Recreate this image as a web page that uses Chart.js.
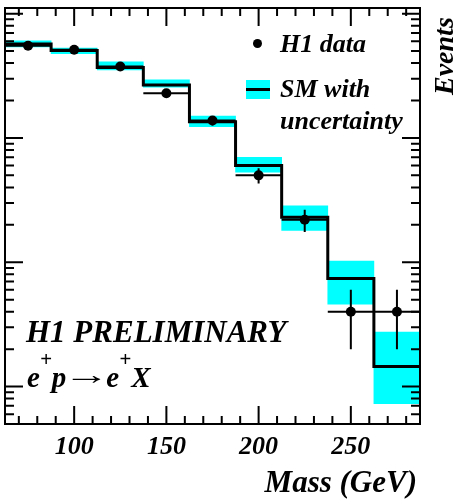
<!DOCTYPE html>
<html>
<head>
<meta charset="utf-8">
<script src="https://cdn.jsdelivr.net/npm/chart.js@4"></script>
<style>
  html, body { margin: 0; padding: 0; background: #fff; }
  #wrap { position: relative; width: 460px; height: 500px; overflow: hidden; }
  #chart { position: absolute; left: 0; top: 0; }
  .lbl {
    position: absolute;
    font-family: 'Liberation Serif', 'Times New Roman', serif;
    font-weight: bold; font-style: italic;
    line-height: 1; white-space: nowrap; color: #000;
  }
  .sup { font-size: 21px; position: relative; top: -21px; }
  .arrow { display: inline-block; font-style: normal; transform: translateY(-3px) scaleX(1.6); margin: 0 5px 0 6px; }
  .dot { position: absolute; width: 9px; height: 9px; border-radius: 50%; background: #000; }
  .box { position: absolute; background: #00ffff; }
  .box i { position: absolute; left: 0; right: 0; top: 8px; height: 3px; background: #000; }
</style>
</head>
<body>
<div id="wrap">
  <canvas id="chart" width="460" height="500"></canvas>

  <span class="dot" style="left:253px; top:39px"></span>
  <div class="lbl" style="left:280px; top:30.5px; font-size:26px">H1 data</div>
  <span class="box" style="left:246px; top:80px; width:24px; height:19px"><i></i></span>
  <div class="lbl" style="left:280px; top:75.5px; font-size:26px">SM with</div>
  <div class="lbl" style="left:280px; top:108px; font-size:26px">uncertainty</div>

  <div class="lbl" style="left:26px; top:315.5px; font-size:31px">H1 PRELIMINARY</div>
  <div class="lbl" style="left:27px; top:362.7px; font-size:29px">e<span class="sup">+</span>p<span class="arrow">→</span>e<span class="sup">+</span>X</div>

  <div class="lbl" style="right:43px; top:465.7px; font-size:31px">Mass (GeV)</div>
  <div class="lbl" style="left:430px; top:95px; font-size:28px; transform:rotate(-90deg); transform-origin:0 0">Events</div>
</div>

<script>
// bins of 25 GeV
const binEdges = [62.5, 87.5, 112.5, 137.5, 162.5, 187.5, 212.5, 237.5, 262.5, 287.5];
const binCenters = [75, 100, 125, 150, 175, 200, 225, 250, 275];

// H1 data
const dataEvents = [552, 513, 376, 229, 138, 50, 22, 4, 4];
const dataErrors = [23, 23, 19, 15, 12, 7, 4.5, 2, 2];

// Standard Model expectation and its band
const smEvents = [570, 505, 369, 267, 135, 60, 23, 7.4, 1.45];
const smLow    = [539, 476, 353, 256, 123, 53, 18, 4.6, 0.73];
const smHigh   = [605, 529, 410, 294, 150, 70, 28.5, 10.2, 2.74];

const xTickLabels = [100, 150, 200, 250];

// frame, inward ticks on all sides and the data error bars
const frameAndTicks = {
  id: 'frameAndTicks',
  afterDatasetsDraw(chart) {
    const { ctx, chartArea: a, scales: { x, y } } = chart;
    ctx.save();
    ctx.strokeStyle = '#000';
    ctx.lineWidth = 2;

    ctx.beginPath();
    binCenters.forEach((c, i) => {
      const px = x.getPixelForValue(c);
      const py = y.getPixelForValue(dataEvents[i]);
      ctx.moveTo(x.getPixelForValue(binEdges[i]), py);
      ctx.lineTo(x.getPixelForValue(binEdges[i + 1]), py);
      ctx.moveTo(px, y.getPixelForValue(dataEvents[i] + dataErrors[i]));
      ctx.lineTo(px, y.getPixelForValue(dataEvents[i] - dataErrors[i]));
    });
    ctx.stroke();

    ctx.beginPath();
    for (let v = 70; v <= 280; v += 10) {
      const px = x.getPixelForValue(v);
      const len = v % 50 === 0 ? 18 : 8;
      ctx.moveTo(px, a.bottom); ctx.lineTo(px, a.bottom - len);
      ctx.moveTo(px, a.top); ctx.lineTo(px, a.top + len);
    }
    for (let d = 0.1; d < 2000; d *= 10) {
      for (let m = 1; m <= 9; m++) {
        const v = m * d;
        if (v <= y.min * 1.001 || v >= y.max) continue;
        const py = y.getPixelForValue(v);
        const len = m === 1 ? 18 : 9;
        ctx.moveTo(a.left, py); ctx.lineTo(a.left + len, py);
        ctx.moveTo(a.right, py); ctx.lineTo(a.right - len, py);
      }
    }
    ctx.stroke();

    ctx.strokeRect(a.left, a.top, a.right - a.left, a.bottom - a.top);
    ctx.restore();
  }
};

new Chart(document.getElementById('chart'), {
  type: 'bar',
  data: {
    datasets: [
      {
        type: 'scatter',
        label: 'H1 data',
        data: binCenters.map((c, i) => ({ x: c, y: dataEvents[i] })),
        pointRadius: 5,
        pointBackgroundColor: '#000',
        pointBorderWidth: 0,
        order: 0,
      },
      {
        type: 'line',
        label: 'SM',
        data: binEdges.map((e, i) => ({ x: e, y: smEvents[Math.min(i, smEvents.length - 1)] })),
        stepped: true,
        borderColor: '#000',
        borderWidth: 3,
        pointRadius: 0,
        fill: false,
        order: 1,
      },
      {
        type: 'bar',
        label: 'SM uncertainty',
        data: binCenters.map((c, i) => ({ x: c, y: [smLow[i], smHigh[i]] })),
        backgroundColor: '#00ffff',
        borderWidth: 0,
        barPercentage: 1,
        categoryPercentage: 1,
        order: 2,
      },
    ],
  },
  options: {
    responsive: false,
    animation: false,
    devicePixelRatio: 1,
    layout: { padding: { left: 4, right: 40, top: 8, bottom: 0 } },
    plugins: { legend: { display: false }, tooltip: { enabled: false } },
    scales: {
      x: {
        type: 'linear',
        min: 62.5,
        max: 287.5,
        offset: false,
        grid: { display: false, drawTicks: false },
        border: { display: false },
        afterBuildTicks: s => { s.ticks = xTickLabels.map(v => ({ value: v })); },
        afterFit: s => { s.height = 76; },
        ticks: {
          color: '#000',
          padding: 8,
          maxRotation: 0,
          autoSkip: false,
          font: { family: 'Liberation Serif', size: 26, style: 'italic', weight: 'bold' },
        },
      },
      y: { type: 'logarithmic', min: 0.5, max: 1110, display: false },
    },
  },
  plugins: [frameAndTicks],
});
</script>
</body>
</html>
